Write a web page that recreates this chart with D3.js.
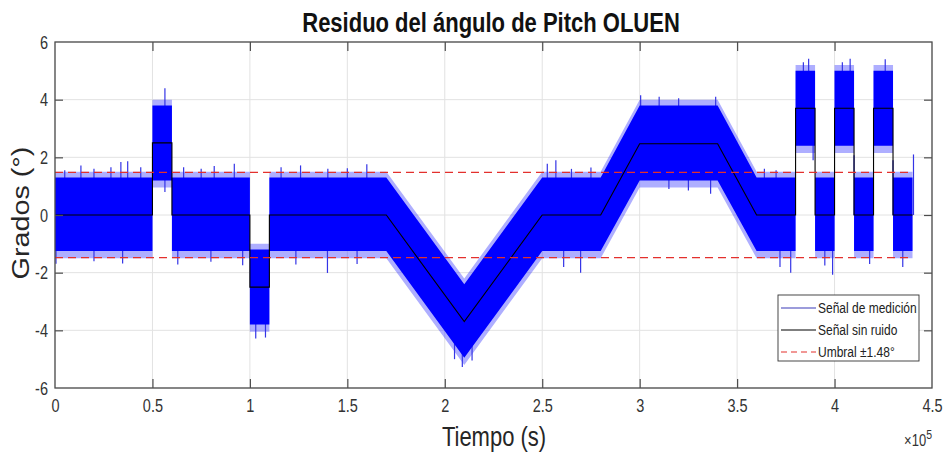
<!doctype html>
<html>
<head>
<meta charset="utf-8">
<style>
    body { margin: 0; background: #fff; }
    svg { display: block; font-family: "Liberation Sans", Arial, sans-serif; }
</style>
<script src="https://d3js.org/d3.v7.min.js"></script>
</head>
<body>

    <svg id="chart" width="945" height="453"></svg>

    <script>

        // Breakpoints of the signal (time in units of 1e5 s)
        var tiempo   = [0, 0.5, 0.5, 0.6, 0.6, 1.0, 1.0, 1.1, 1.1, 1.7, 2.1, 2.5, 2.8, 3.0, 3.4, 3.6, 3.8, 3.8, 3.9, 3.9, 4.0, 4.0, 4.1, 4.1, 4.2, 4.2, 4.3, 4.3, 4.4];
        // Noise-free signal
        var sinRuido = [0, 0, 2.5, 2.5, 0, 0, -2.5, -2.5, 0, 0, -3.7, 0, 0, 2.47, 2.47, 0, 0, 3.7, 3.7, 0, 0, 3.7, 3.7, 0, 0, 3.7, 3.7, 0, 0];
        // Envelope of the measured signal (dense core and sparse fringe)
        var nucleoSup = [1.3, 1.3, 3.8, 3.8, 1.3, 1.3, -1.2, -1.2, 1.3, 1.3, -2.4, 1.3, 1.3, 3.8, 3.8, 1.3, 1.3, 5.0, 5.0, 1.3, 1.3, 5.0, 5.0, 1.3, 1.3, 5.0, 5.0, 1.3, 1.3];
        var nucleoInf = [-1.25, -1.25, 1.2, 1.2, -1.25, -1.25, -3.8, -3.8, -1.25, -1.25, -4.95, -1.25, -1.25, 1.2, 1.2, -1.25, -1.25, 2.4, 2.4, -1.25, -1.25, 2.4, 2.4, -1.25, -1.25, 2.4, 2.4, -1.25, -1.25];
        var bordeSup  = [1.5, 1.5, 4.0, 4.0, 1.5, 1.5, -1.0, -1.0, 1.5, 1.5, -2.2, 1.5, 1.5, 4.0, 4.0, 1.5, 1.5, 5.2, 5.2, 1.5, 1.5, 5.2, 5.2, 1.5, 1.5, 5.2, 5.2, 1.5, 1.5];
        var bordeInf  = [-1.5, -1.5, 0.95, 0.95, -1.5, -1.5, -4.05, -4.05, -1.5, -1.5, -5.2, -1.5, -1.5, 0.95, 0.95, -1.5, -1.5, 2.15, 2.15, -1.5, -1.5, 2.15, 2.15, -1.5, -1.5, 2.15, 2.15, -1.5, -1.5];
        // Largest noise peaks
        var picoT = [0.05, 0.133, 0.2, 0.287, 0.338, 0.373, 0.44, 0.564, 0.564, 0.66, 0.75, 0.817, 0.92, 1.16, 1.26, 1.4, 1.5, 1.6,
                     2.526, 2.57, 2.65, 2.75, 3.005, 3.1, 3.2, 3.39, 3.15, 3.25, 3.364, 3.64, 3.7,
                     3.84, 3.867, 4.04, 4.08, 4.26, 3.89, 4.1, 4.3, 4.405,
                     0.005, 0.2, 0.347, 0.63, 0.8, 0.963, 1.03, 1.08, 1.236, 1.398, 1.55, 2.05, 2.09, 2.14,
                     2.61, 2.697, 3.72, 3.775, 3.95, 3.99, 4.18, 4.35];
        var picoV = [1.55, 1.72, 1.6, 1.66, 1.84, 1.86, 1.66, 4.4, 0.8, 1.66, 1.6, 1.7, 1.78, 1.66, 1.72, 1.6, 1.62, 1.76,
                     1.78, 1.9, 1.6, 1.65, 4.15, 4.1, 4.05, 4.1, 0.9, 0.85, 0.74, 1.6, 1.55,
                     5.3, 5.42, 5.3, 5.42, 5.4, 1.9, 2.07, 1.9, 2.1,
                     -1.69, -1.6, -1.68, -1.72, -1.62, -1.74, -4.28, -4.25, -1.72, -2.01, -1.7, -5.0, -5.27, -5.05,
                     -1.8, -2.0, -1.8, -2.0, -1.75, -2.07, -1.7, -1.8];
        var umbral = 1.48;

        // Axis ticks
        var xTicks = [0, 0.5, 1, 1.5, 2, 2.5, 3, 3.5, 4, 4.5];
        var xTickLabels = ["0", "0.5", "1", "1.5", "2", "2.5", "3", "3.5", "4", "4.5"];
        var yTicks = [-6, -4, -2, 0, 2, 4, 6];
        var yTickLabels = ["-6", "-4", "-2", "0", "2", "4", "6"];

        var svg = d3.select("#chart");
        var mLeft = 55, mRight = 932, mTop = 42, mBottom = 388;
        var sy = 1.25; // the picture is a little taller than wide

        var x = d3.scaleLinear().domain([0, 4.5]).range([mLeft, mRight]);
        var y = d3.scaleLinear().domain([-6, 6]).range([mBottom, mTop]);

        // grid
        svg.append("g").selectAll("line").data(xTicks).enter().append("line")
            .attr("x1", d => x(d)).attr("x2", d => x(d)).attr("y1", mTop).attr("y2", mBottom)
            .attr("stroke", "#e2e2e2").attr("stroke-width", 1);
        svg.append("g").selectAll("line").data(yTicks).enter().append("line")
            .attr("x1", mLeft).attr("x2", mRight).attr("y1", d => y(d)).attr("y2", d => y(d))
            .attr("stroke", "#e2e2e2").attr("stroke-width", 1);

        var idx = d3.range(tiempo.length);

        // measured signal: fringe, peaks, then the dense core on top
        svg.append("path")
            .attr("d", d3.area().x(i => x(tiempo[i])).y0(i => y(bordeInf[i])).y1(i => y(bordeSup[i]))(idx))
            .attr("fill", "#2a2aff").attr("opacity", 0.38);

        function limpioEn(t) {
            var i = Math.max(0, Math.min(tiempo.length - 2, d3.bisectRight(tiempo, t) - 1));
            return d3.scaleLinear().domain([tiempo[i], tiempo[i + 1]]).range([sinRuido[i], sinRuido[i + 1]])(t);
        }
        svg.append("g").selectAll("line").data(picoT).enter().append("line")
            .attr("x1", d => x(d)).attr("x2", d => x(d))
            .attr("y1", d => y(limpioEn(d)))
            .attr("y2", (d, i) => y(picoV[i]))
            .attr("stroke", "#3434e6").attr("stroke-width", 1.2);

        svg.append("path")
            .attr("d", d3.area().x(i => x(tiempo[i])).y0(i => y(nucleoInf[i])).y1(i => y(nucleoSup[i]))(idx))
            .attr("fill", "#0000ff");

        // clean signal
        svg.append("path")
            .attr("d", d3.line().x(i => x(tiempo[i])).y(i => y(sinRuido[i]))(idx))
            .attr("fill", "none").attr("stroke", "#000").attr("stroke-width", 1.1);

        // thresholds
        [umbral, -umbral].forEach(function (u) {
            svg.append("line")
                .attr("x1", x(0)).attr("x2", x(tiempo[tiempo.length - 1]))
                .attr("y1", y(u)).attr("y2", y(u))
                .attr("stroke", "#e3302d").attr("stroke-width", 1.2)
                .attr("stroke-dasharray", "8,5");
        });

        // axes
        var gx = svg.append("g").attr("transform", "translate(0," + mBottom + ")")
            .call(d3.axisBottom(x).tickValues(xTicks).tickFormat((d, i) => xTickLabels[i]).tickSizeInner(-9).tickSizeOuter(0));
        var gxt = svg.append("g").attr("transform", "translate(0," + mTop + ")")
            .call(d3.axisTop(x).tickValues(xTicks).tickFormat("").tickSizeInner(-9).tickSizeOuter(0));
        var gy = svg.append("g").attr("transform", "translate(" + mLeft + ",0)")
            .call(d3.axisLeft(y).tickValues(yTicks).tickFormat((d, i) => yTickLabels[i]).tickSizeInner(-8).tickSizeOuter(0));
        var gyr = svg.append("g").attr("transform", "translate(" + mRight + ",0)")
            .call(d3.axisRight(y).tickValues(yTicks).tickFormat("").tickSizeInner(-8).tickSizeOuter(0));

        [gx, gxt, gy, gyr].forEach(function (g) {
            g.select(".domain").remove();
            g.selectAll(".tick line").attr("stroke", "#4d4d4d").attr("stroke-width", 1.2);
        });
        gx.selectAll(".tick line").filter(d => d === 0 || d === 4.5).remove();
        gxt.selectAll(".tick line").filter(d => d === 0 || d === 4.5).remove();
        gy.selectAll(".tick line").filter(d => d === -6 || d === 6).remove();
        gyr.selectAll(".tick line").filter(d => d === -6 || d === 6).remove();

        gx.selectAll("text")
            .attr("y", 0).attr("dy", null)
            .attr("transform", "translate(0,24) scale(1," + sy + ")")
            .attr("fill", "#333").style("font-size", "14.5px").style("font-family", "Liberation Sans, Arial, sans-serif");
        gy.selectAll("text")
            .attr("x", 0).attr("dy", null)
            .attr("transform", "translate(-7,6) scale(1," + sy + ")")
            .attr("fill", "#333").style("font-size", "14.5px").style("font-family", "Liberation Sans, Arial, sans-serif");

        // box
        svg.append("rect")
            .attr("x", mLeft).attr("y", mTop).attr("width", mRight - mLeft).attr("height", mBottom - mTop)
            .attr("fill", "none").attr("stroke", "#4d4d4d").attr("stroke-width", 1.3);

        // title and labels
        svg.append("text")
            .attr("transform", "translate(491,32) scale(1," + sy + ")")
            .attr("text-anchor", "middle").attr("font-weight", "bold").attr("font-size", 22).attr("fill", "#111")
            .text("Residuo del ángulo de Pitch OLUEN");
        svg.append("text")
            .attr("transform", "translate(494,446) scale(1," + sy + ")")
            .attr("text-anchor", "middle").attr("font-size", 22).attr("fill", "#262626")
            .text("Tiempo (s)");
        svg.append("text")
            .attr("transform", "translate(28.5,213) rotate(-90) scale(" + sy + ",1)")
            .attr("text-anchor", "middle").attr("font-size", 23).attr("fill", "#262626")
            .text("Grados (°)");
        var exp = svg.append("text")
            .attr("transform", "translate(932,446) scale(1," + sy + ")")
            .attr("text-anchor", "end").attr("font-size", 13).attr("fill", "#333");
        exp.append("tspan").text("×10");
        exp.append("tspan").attr("font-size", 10.5).attr("dy", -6).text("5");

        // legend
        var leyenda = [
            { nombre: "Señal de medición", color: "#3a3ab8", dash: null },
            { nombre: "Señal sin ruido", color: "#000", dash: null },
            { nombre: "Umbral ±1.48°", color: "#e3302d", dash: "6,4" }
        ];
        var lg = svg.append("g");
        lg.append("rect").attr("x", 778).attr("y", 295).attr("width", 141).attr("height", 66)
            .attr("fill", "#fff").attr("stroke", "#333").attr("stroke-width", 0.9);
        leyenda.forEach(function (d, i) {
            var cy = 308 + i * 22;
            lg.append("line").attr("x1", 781).attr("x2", 816).attr("y1", cy).attr("y2", cy)
                .attr("stroke", d.color).attr("stroke-width", 1.1).attr("stroke-dasharray", d.dash);
            lg.append("text").attr("transform", "translate(818," + (cy + 5.2) + ") scale(1," + sy + ")")
                .attr("font-size", 12).attr("fill", "#222").text(d.nombre);
        });

    </script>

</body>
</html>
